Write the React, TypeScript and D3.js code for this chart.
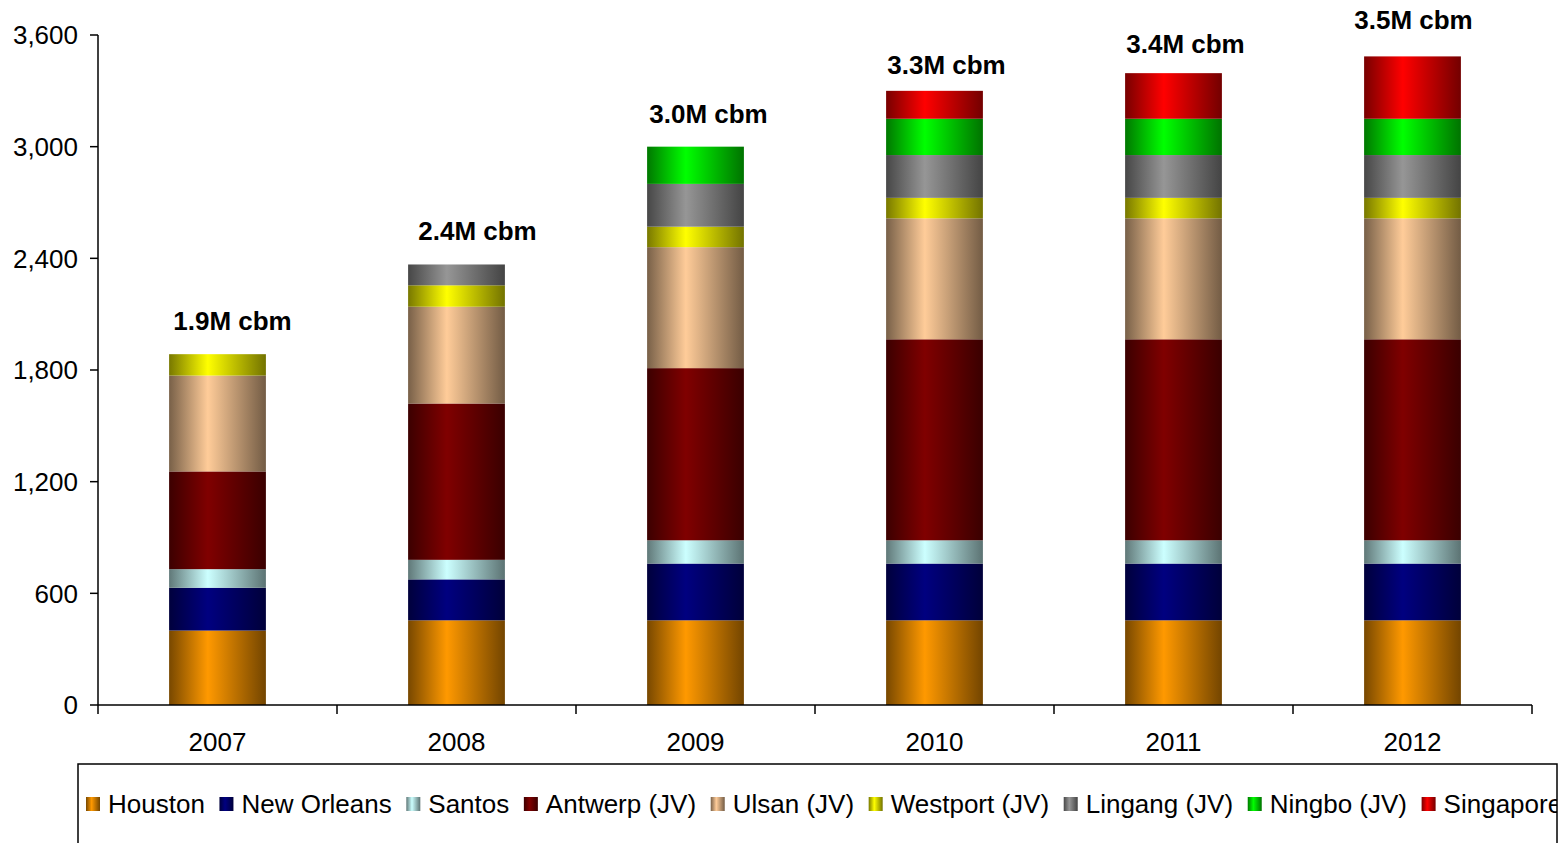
import React from "react";
import * as d3 from "d3";

const years = ["2007", "2008", "2009", "2010", "2011", "2012"];
const seriesNames = ["Houston", "New Orleans", "Santos", "Antwerp (JV)", "Ulsan (JV)", "Westport (JV)", "Lingang (JV)", "Ningbo (JV)", "Singapore"];
const seriesColors = ["#FF9900", "#000080", "#CCFFFF", "#800000", "#FFCC99", "#FFFF00", "#969696", "#00FF00", "#FF0000"];
const houston = [400, 455, 455, 455, 455, 455];
const newOrleans = [230, 220, 305, 305, 305, 305];
const santos = [100, 105, 125, 125, 125, 125];
const antwerp = [525, 840, 925, 1080, 1080, 1080];
const ulsan = [515, 520, 650, 650, 650, 650];
const westport = [115, 115, 110, 110, 110, 110];
const lingang = [0, 112, 230, 230, 230, 230];
const ningbo = [0, 0, 200, 195, 195, 195];
const singapore = [0, 0, 0, 150, 245, 335];
const totalLabels = ["1.9M cbm", "2.4M cbm", "3.0M cbm", "3.3M cbm", "3.4M cbm", "3.5M cbm"];
const yTicks = [0, 600, 1200, 1800, 2400, 3000, 3600];

// hand-placed label nudges (layout only)
const labelDx = [15, 21, 13, 12, 12, 1];
const labelDy = [0, 0, 0, 7, 4, -3];

const seriesValues = [houston, newOrleans, santos, antwerp, ulsan, westport, lingang, ningbo, singapore];
const FONT = "'Liberation Sans', Arial, sans-serif";

function measure(text: string, font: string): number {
  const c = document.createElement("canvas");
  const ctx = c.getContext("2d")!;
  ctx.font = font;
  return ctx.measureText(text).width;
}

export default function App() {
  const W = 1567, H = 843;
  const left = 98, right = 1532, top = 35, bottom = 705;
  const x = d3.scaleBand().domain(years).range([left, right]).paddingInner(0.595).paddingOuter(0.2975);
  const band = d3.scaleBand().domain(years).range([left, right]);
  const y = d3.scaleLinear().domain([0, 3600]).range([bottom, top]);

  const table = years.map((yr, i) => {
    const row: any = { year: yr };
    seriesNames.forEach((s, k) => (row[s] = seriesValues[k][i]));
    return row;
  });
  const stacked = d3.stack().keys(seriesNames)(table);

  const fmt = d3.format(",");
  const legendFont = `26px ${FONT}`;
  let lx = 86;
  const legendItems = seriesNames.map((name, k) => {
    const item = { name, k, sx: lx, tx: lx + 22 };
    lx = lx + 22 + measure(name, legendFont) + 14.6;
    return item;
  });

  const shade = (c: string, f: number) => {
    const col = d3.rgb(c);
    return d3.rgb(col.r * f, col.g * f, col.b * f).toString();
  };

  return (
    <svg width={W} height={H} style={{ position: "absolute", left: 0, top: 0, background: "#fff" }}>
      <defs>
        {seriesColors.map((c, k) => (
          <linearGradient key={k} id={`g${k}`} x1="0" x2="1" y1="0" y2="0">
            <stop offset="0%" stopColor={shade(c, 0.47)} />
            <stop offset="40%" stopColor={c} />
            <stop offset="100%" stopColor={shade(c, 0.45)} />
          </linearGradient>
        ))}
        <clipPath id="legclip">
          <rect x={78} y={764} width={1479} height={100} />
        </clipPath>
      </defs>
      {stacked.map((layer, k) => (
        <g key={k} fill={`url(#g${k})`}>
          {layer.map((d, i) =>
            d[1] - d[0] > 0 ? (
              <rect key={i} x={x(years[i])} width={x.bandwidth()} y={y(d[1])} height={y(d[0]) - y(d[1])} />
            ) : null
          )}
        </g>
      ))}
      {years.map((yr, i) => {
        const tot = d3.sum(seriesValues, (s) => s[i]);
        return (
          <text key={yr} x={band(yr)! + band.bandwidth() / 2 + labelDx[i]} y={y(tot) - 24 + labelDy[i]} textAnchor="middle"
            fontFamily={FONT} fontWeight="bold" fontSize={26} fill="#000">{totalLabels[i]}</text>
        );
      })}
      <g stroke="#000" strokeWidth={1.5}>
        <line x1={left} x2={left} y1={top} y2={bottom} />
        <line x1={left} x2={right} y1={bottom} y2={bottom} />
        {yTicks.map((t) => (
          <line key={t} x1={left - 8} x2={left} y1={y(t)} y2={y(t)} />
        ))}
        {[...years.map((yr) => band(yr)!), right].map((v, i) => (
          <line key={i} x1={v} x2={v} y1={bottom} y2={bottom + 9} />
        ))}
      </g>
      {yTicks.map((t) => (
        <text key={t} x={left - 20} y={y(t)} dy="0.36em" textAnchor="end" fontFamily={FONT} fontSize={26} fill="#000">{fmt(t)}</text>
      ))}
      {years.map((yr) => (
        <text key={yr} x={band(yr)! + band.bandwidth() / 2} y={742} dy="0.36em" textAnchor="middle" fontFamily={FONT} fontSize={26} fill="#000">{yr}</text>
      ))}
      <g clipPath="url(#legclip)">
        {legendItems.map((it) => (
          <g key={it.name}>
            <rect x={it.sx} y={797} width={14} height={14} fill={`url(#g${it.k})`} />
            <text x={it.tx} y={804} dy="0.36em" fontFamily={FONT} fontSize={26} fill="#000">{it.name}</text>
          </g>
        ))}
      </g>
      <rect x={78} y={764} width={1479} height={100} fill="none" stroke="#000" strokeWidth={1.5} />
    </svg>
  );
}
